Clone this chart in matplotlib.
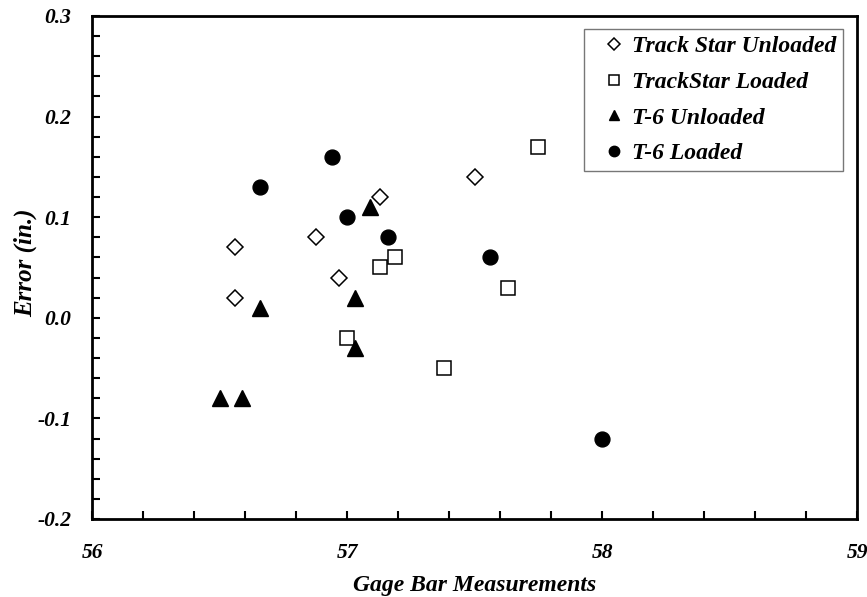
import matplotlib.pyplot as plt
from matplotlib.ticker import MultipleLocator, FormatStrFormatter

# gage bar reading vs. measurement error, four instrument setups
ts_unloaded_x = [56.56, 56.56, 56.88, 56.97, 57.13, 57.50]
ts_unloaded_y = [0.07, 0.02, 0.08, 0.04, 0.12, 0.14]

ts_loaded_x = [57.00, 57.13, 57.19, 57.38, 57.63, 57.75]
ts_loaded_y = [-0.02, 0.05, 0.06, -0.05, 0.03, 0.17]

t6_unloaded_x = [56.50, 56.59, 56.66, 57.03, 57.03, 57.09]
t6_unloaded_y = [-0.08, -0.08, 0.01, 0.02, -0.03, 0.11]

t6_loaded_x = [56.66, 56.94, 57.00, 57.16, 57.56, 58.00]
t6_loaded_y = [0.13, 0.16, 0.10, 0.08, 0.06, -0.12]

plt.rcParams['font.family'] = ['Liberation Serif', 'DejaVu Serif']
font = dict(weight='bold', style='italic')

fig = plt.figure(figsize=(8.67, 5.97), dpi=100)
ax = fig.add_axes([92 / 867, 1 - 519 / 597, 765 / 867, 503 / 597])

ax.plot(ts_unloaded_x, ts_unloaded_y, 'D', ms=8.3, mfc='white', mec='black', mew=1.1,
        label='Track Star Unloaded')
ax.plot(ts_loaded_x, ts_loaded_y, 's', ms=10.5, mfc='white', mec='black', mew=1.1,
        label='TrackStar Loaded')
ax.plot(t6_unloaded_x, t6_unloaded_y, '^', ms=11, color='black', label='T-6 Unloaded')
ax.plot(t6_loaded_x, t6_loaded_y, 'o', ms=10.7, color='black', label='T-6 Loaded')

ax.set_xlim(56, 59)
ax.set_ylim(-0.2, 0.3)
ax.xaxis.set_major_locator(MultipleLocator(1))
ax.xaxis.set_minor_locator(MultipleLocator(0.2))
ax.yaxis.set_major_locator(MultipleLocator(0.1))
ax.yaxis.set_minor_locator(MultipleLocator(0.02))
ax.yaxis.set_major_formatter(FormatStrFormatter('%.1f'))

for s in ax.spines.values():
    s.set_linewidth(2)
ax.tick_params(which='both', direction='in', length=6, width=1.5)
ax.tick_params(axis='x', which='major', pad=17)
ax.tick_params(axis='y', which='major', pad=15)
for lbl in ax.get_xticklabels() + ax.get_yticklabels():
    lbl.set_fontsize(15.5)
    lbl.set_fontweight('bold')
    lbl.set_fontstyle('italic')

ax.set_xlabel('Gage Bar Measurements', fontsize=17, labelpad=9, **font)
ax.set_ylabel('Error (in.)', fontsize=18, **font)
ax.yaxis.set_label_coords(-0.071, 0.51)

leg = ax.legend(loc='upper right', bbox_to_anchor=(0.982, 0.974), frameon=True,
                fancybox=False, edgecolor='#555555', markerscale=0.7,
                handlelength=2.0, handletextpad=-0.23, labelspacing=0.6,
                borderpad=0.28, borderaxespad=0.0,
                prop=dict(family='Liberation Serif', size=17,
                          weight='bold', style='italic'))
leg.get_frame().set_linewidth(1.0)

fig.savefig('out.png', dpi=100)
